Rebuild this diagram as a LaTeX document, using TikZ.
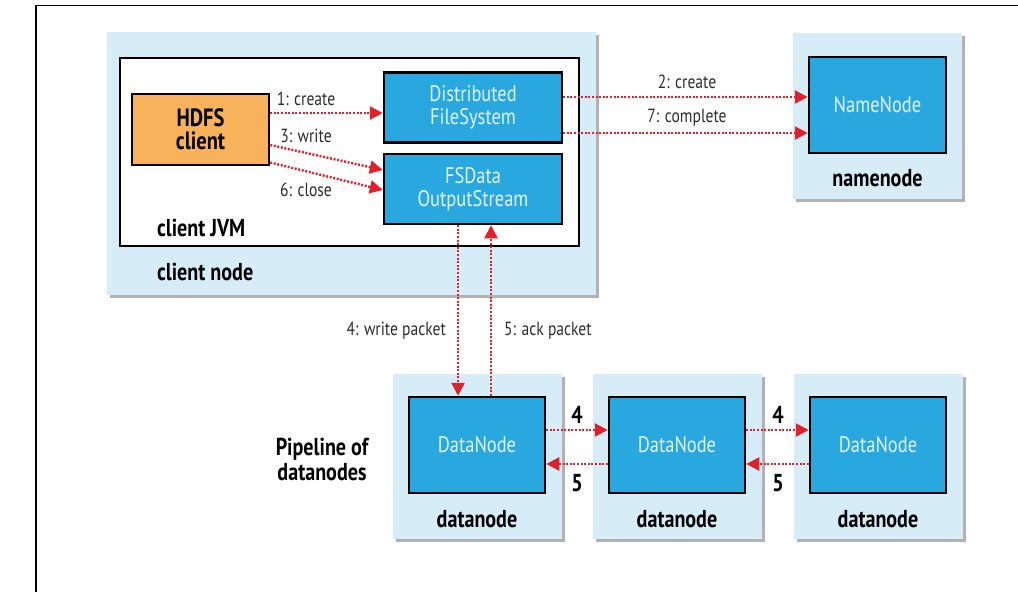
\documentclass[tikz,border=0pt]{standalone}
\usepackage{fontspec}
\setmainfont{PT Sans}[FakeStretch=0.82]
\usepackage{tikz}
\usetikzlibrary{arrows.meta,shadows,positioning}
\definecolor{hostblue}{RGB}{214,237,248}
\definecolor{procblue}{RGB}{41,168,224}
\definecolor{clientorange}{RGB}{249,178,92}
\definecolor{arrred}{RGB}{224,32,42}
\definecolor{proctext}{RGB}{226,245,255}
\definecolor{lblgray}{RGB}{45,45,45}
\tikzset{
  hostbox/.style={ fill=hostblue, inner sep=0pt, minimum width=169pt, minimum height=165pt,
    drop shadow={shadow xshift=3pt, shadow yshift=-3pt, fill=black!60, opacity=0.5} }
}
\tikzset{
  jvmbox/.style={ draw, fill=white, line width=2.5pt, inner sep=0pt, minimum width=459pt, minimum height=188pt }
}
\tikzset{
  procbox/.style={ draw, fill=procblue, line width=2.5pt, text=proctext, align=center,
    minimum width=178pt, minimum height=70pt, font=\fontsize{22.5}{22.5}\selectfont }
}
\tikzset{
  clientbox/.style={ draw, fill=clientorange, line width=2.5pt, align=center,
    minimum width=137pt, minimum height=71pt, font=\bfseries\fontsize{25}{23}\selectfont }
}
\tikzset{
  hostlbl/.style={ inner sep=0pt, font=\bfseries\fontsize{24.5}{25}\selectfont }
}
\tikzset{
  lbl/.style={ inner sep=0pt, text=lblgray, font=\fontsize{19}{20}\selectfont }
}
\tikzset{
  redarr/.style={ draw=arrred, line width=2.4pt, dash pattern=on 2pt off 1.6pt,
    -{Triangle[length=13pt,width=13pt,fill=arrred]} }
}

\begin{document}
\begin{tikzpicture}[x=1pt,y=-1pt]
  \useasboundingbox (0,0) rectangle (1018,592);
  \draw[line width=1.5pt] (36,592) -- (36,5.5) -- (1018,5.5);

  % client node
  \node[hostbox, minimum width=489pt, minimum height=263pt] (cnode) at (351.5,163.5) {};
  \node[jvmbox] (jvm) at (349.5,152) {};
  \node[clientbox] (hdfs) at (200.5,129.5) {HDFS\\client};
  \node[procbox] (dfs) at (473,107.5) {Distributed\\FileSystem};
  \node[procbox] (fsdos) at (473,189) {FSData\\OutputStream};
  \node[hostlbl, anchor=west] (jvmlbl) at (157,228) {client JVM};
  \node[hostlbl, anchor=west] (cnodelbl) at (157,272) {client node};

  % namenode
  \node[hostbox, minimum height=166pt] (nnode) at (877.5,116) {};
  \node[procbox, minimum width=137pt, minimum height=96pt] (nn) at (877.5,105) {NameNode};
  \node[hostlbl] (nnlbl) at (877.5,178) {namenode};

  % datanodes
  \foreach \i/\x in {1/477, 2/677, 3/878} {
    \node[hostbox] (dhost\i) at (\x,456.5) {};
    \node[procbox, minimum width=136pt, minimum height=96pt] (dn\i) at (\x,445) {DataNode};
    \node[hostlbl] (dlbl\i) at (\x,519) {datanode};
  }
  \node[hostlbl, align=center] (pipe) at (322,459) {Pipeline of\\datanodes};

  \begin{scope}[redarr]
    \draw ([yshift=16.5pt]hdfs.east) -- ([yshift=-5.5pt]dfs.west);
    \draw ([yshift=-15.5pt]hdfs.east) -- ([yshift=19pt]fsdos.west);
    \draw ([yshift=-33pt]hdfs.east) -- ([yshift=-1pt]fsdos.west);
    \draw ([yshift=10.5pt]dfs.east) -- ([yshift=8pt]nn.west);
    \draw ([yshift=-25.5pt]dfs.east) -- ([yshift=-28pt]nn.west);
    \draw ([xshift=-15pt]fsdos.south) -- ([xshift=-15pt]fsdos.south |- dn1.north);
    \draw ([xshift=18pt]fsdos.south |- dn1.north) -- ([xshift=18pt]fsdos.south);
    \draw ([yshift=15pt]dn1.east) -- ([yshift=15pt]dn2.west);
    \draw ([yshift=15pt]dn2.east) -- ([yshift=15pt]dn3.west);
    \draw ([yshift=-19pt]dn2.west) -- ([yshift=-19pt]dn1.east);
    \draw ([yshift=-19pt]dn3.west) -- ([yshift=-19pt]dn2.east);
  \end{scope}

  \node[lbl] (l1) at (306,99) {1: create};
  \node[lbl] (l3) at (306,136) {3: write};
  \node[lbl] (l6) at (306,190) {6: close};
  \node[lbl] (l2) at (687,82) {2: create};
  \node[lbl] (l7) at (687,118) {7: complete};
  \node[lbl, anchor=east] (l4) at (446,331) {4: write packet};
  \node[lbl, anchor=west] (l5) at (504,331) {5: ack packet};
  \foreach \x in {577, 778} {
    \node[hostlbl] at (\x,415) {4};
    \node[hostlbl] at (\x,483) {5};
  }
\end{tikzpicture}
\end{document}
